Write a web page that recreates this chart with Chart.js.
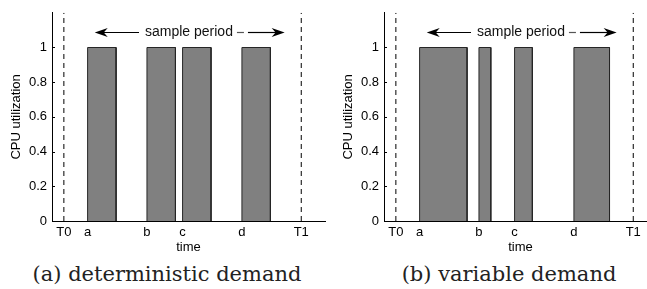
<!DOCTYPE html>
<html>
<head>
<meta charset="utf-8">
<script src="https://cdn.jsdelivr.net/npm/chart.js@4.4.0/dist/chart.umd.min.js"></script>
<style>
    html, body { margin: 0; padding: 0; background: #fff; overflow: hidden; width: 647px; height: 289px; }
    .panel { position: absolute; top: 0; width: 330px; height: 258px; }
    #panelA { left: 0; }
    #panelB { left: 332px; }
    .caption {
        position: absolute; top: 262px; line-height: 24px;
        font-family: "DejaVu Serif", serif; font-size: 21px; color: #222;
        white-space: nowrap; transform: translateX(-50%);
    }
</style>
</head>
<body>
<div class="panel" id="panelA"><canvas id="chartA"></canvas></div>
<div class="panel" id="panelB"><canvas id="chartB"></canvas></div>
<div class="caption" style="left:167px">(a) deterministic demand</div>
<div class="caption" style="left:509px">(b) variable demand</div>
<script>
// x-axis marks (time units) and their labels
const timeTicks = [0, 1, 3.5, 5, 7.5, 10];
const timeLabels = ['T0', 'a', 'b', 'c', 'd', 'T1'];
const utilTicks = [0, 0.2, 0.4, 0.6, 0.8, 1];

// the sample window T0..T1
const windowBounds = [0, 10];

// busy periods: start, end and utilization
const detStart = [1, 3.5, 5, 7.5];
const detEnd = [2.2, 4.7, 6.2, 8.7];
const detUtil = [1, 1, 1, 1];

const varStart = [1, 3.5, 5, 7.5];
const varEnd = [3, 4, 5.75, 9];
const varUtil = [1, 1, 1, 1];

// "sample period" arrow, in data units
const periodArrow = { from: 1.3, to: 9.3, level: 1.09, labelAt: 5.27 };

const axisFont = { family: 'Liberation Sans', size: 13 };

function buildDatasets(starts, ends, utils) {
    const sets = [];
    starts.forEach(function (s, i) {
        sets.push({
            data: [{ x: s, y: 0 }, { x: s, y: utils[i] }, { x: ends[i], y: utils[i] }, { x: ends[i], y: 0 }],
            showLine: true,
            fill: 'origin',
            backgroundColor: '#808080',
            borderColor: '#262626',
            borderWidth: 1,
            pointRadius: 0,
            tension: 0
        });
    });
    windowBounds.forEach(function (t) {
        sets.push({
            data: [{ x: t, y: 0 }, { x: t, y: 1.2 }],
            showLine: true,
            fill: false,
            borderColor: '#000',
            borderWidth: 1,
            borderDash: [5, 4],
            pointRadius: 0
        });
    });
    return sets;
}

// small inward tick marks on the y axis (matlab style)
const innerTicks = {
    id: 'innerTicks',
    afterDraw(chart) {
        const { ctx, scales: { y } } = chart;
        ctx.save();
        ctx.strokeStyle = '#000';
        ctx.lineWidth = 1;
        utilTicks.forEach(function (v) {
            const py = Math.round(y.getPixelForValue(v)) + 0.5;
            ctx.beginPath();
            ctx.moveTo(y.right, py);
            ctx.lineTo(y.right + 3, py);
            ctx.stroke();
        });
        ctx.restore();
    }
};

const arrowPlugin = {
    id: 'periodArrow',
    afterDatasetsDraw(chart) {
        const { ctx, scales: { x, y } } = chart;
        const yy = Math.round(y.getPixelForValue(periodArrow.level)) + 0.5;
        const xl = x.getPixelForValue(periodArrow.from);
        const xr = x.getPixelForValue(periodArrow.to);
        const xt = x.getPixelForValue(periodArrow.labelAt);
        ctx.save();
        ctx.font = '14px "Liberation Sans"';
        ctx.fillStyle = '#111';
        ctx.textAlign = 'center';
        ctx.textBaseline = 'middle';
        const text = 'sample period';
        const w = ctx.measureText(text).width;
        ctx.fillText(text, xt, yy);

        ctx.strokeStyle = '#000';
        ctx.lineWidth = 1.2;
        // left arrow
        ctx.beginPath();
        ctx.moveTo(xl + 6, yy);
        ctx.lineTo(xt - w / 2 - 6, yy);
        ctx.stroke();
        // right arrow: one dash, then solid
        const s = xt + w / 2 + 4;
        ctx.strokeStyle = '#555';
        ctx.beginPath();
        ctx.moveTo(s, yy);
        ctx.lineTo(s + 7, yy);
        ctx.stroke();
        ctx.strokeStyle = '#000';
        ctx.beginPath();
        ctx.moveTo(s + 11, yy);
        ctx.lineTo(xr - 6, yy);
        ctx.stroke();

        function head(tip, dir) {
            ctx.beginPath();
            ctx.moveTo(tip, yy);
            ctx.lineTo(tip - dir * 13, yy - 4.5);
            ctx.lineTo(tip - dir * 9, yy);
            ctx.lineTo(tip - dir * 13, yy + 4.5);
            ctx.closePath();
            ctx.fillStyle = '#000';
            ctx.fill();
        }
        head(xl, -1);
        head(xr, 1);
        ctx.restore();
    }
};

function makeChart(id, starts, ends, utils) {
    const ctx = document.getElementById(id).getContext('2d');
    return new Chart(ctx, {
        type: 'scatter',
        data: { datasets: buildDatasets(starts, ends, utils) },
        options: {
            responsive: true,
            maintainAspectRatio: false,
            animation: false,
            layout: { padding: { top: 12, right: 5, left: 0, bottom: 0 } },
            plugins: { legend: { display: false }, tooltip: { enabled: false } },
            scales: {
                x: {
                    type: 'linear',
                    min: -0.5,
                    max: 11,
                    grid: { display: false, drawTicks: false },
                    border: { display: true, color: '#000', width: 1 },
                    afterBuildTicks: function (s) { s.ticks = timeTicks.map(v => ({ value: v })); },
                    afterFit: function (s) { s.height = 37; },
                    ticks: {
                        autoSkip: false,
                        maxRotation: 0,
                        padding: 4,
                        color: '#000',
                        font: axisFont,
                        callback: function (v) {
                            const i = timeTicks.indexOf(v);
                            return i >= 0 ? timeLabels[i] : '';
                        }
                    },
                    title: { display: true, text: 'time', color: '#000', font: axisFont, padding: { top: 0, bottom: 3 } }
                },
                y: {
                    type: 'linear',
                    min: 0,
                    max: 1.2,
                    grid: { display: false, drawTicks: false },
                    border: { display: true, color: '#000', width: 1 },
                    afterBuildTicks: function (s) { s.ticks = utilTicks.map(v => ({ value: v })); },
                    afterFit: function (s) { s.width = 52; },
                    ticks: {
                        padding: 5,
                        color: '#000',
                        font: axisFont,
                        callback: function (v) { return String(v); }
                    },
                    title: { display: true, text: 'CPU utilization', color: '#000', font: axisFont, padding: { top: 9, bottom: 0 } }
                }
            }
        },
        plugins: [arrowPlugin, innerTicks]
    });
}

makeChart('chartA', detStart, detEnd, detUtil);
makeChart('chartB', varStart, varEnd, varUtil);
</script>
</body>
</html>
